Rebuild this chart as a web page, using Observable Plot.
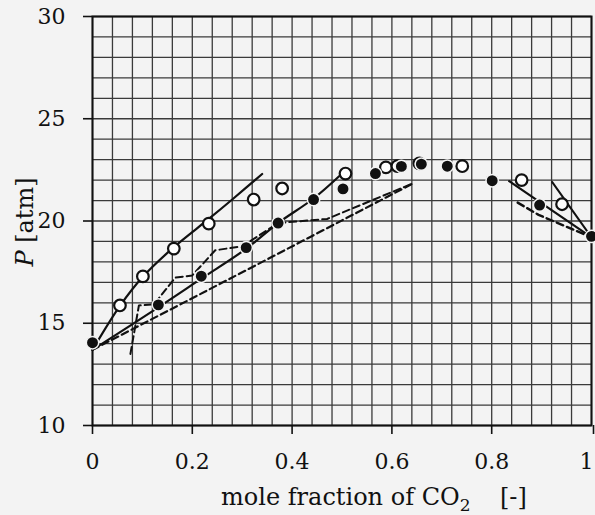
<!DOCTYPE html>
<html><head><meta charset="utf-8">
<script src="https://cdn.jsdelivr.net/npm/d3@7"></script>
<script src="https://cdn.jsdelivr.net/npm/@observablehq/plot@0.6"></script>
<style>
html,body{margin:0;padding:0;background:#f3f3f3;}
#chart{width:595px;height:515px;position:relative;}
svg{overflow:visible;}
</style>
</head><body><div id="chart"></div>
<script>
// ---- data ----
const filledX = [0, 0.132, 0.218, 0.308, 0.372, 0.443, 0.502, 0.567, 0.619, 0.659, 0.711, 0.801, 0.896, 1.0];
const filledP = [14.05, 15.9, 17.3, 18.7, 19.9, 21.05, 21.57, 22.32, 22.67, 22.78, 22.68, 21.97, 20.78, 19.25];

const openX = [0.055, 0.101, 0.163, 0.233, 0.323, 0.380, 0.507, 0.588, 0.611, 0.655, 0.741, 0.860, 0.941];
const openP = [15.87, 17.29, 18.65, 19.87, 21.05, 21.59, 22.32, 22.62, 22.68, 22.82, 22.68, 22.0, 20.82];

// solid curve through open circles (left branch)
const lineAX = [0, 0.055, 0.100, 0.163, 0.233, 0.280, 0.340];
const lineAP = [13.7, 15.85, 17.25, 18.72, 20.1, 21.05, 22.3];
// solid curve through filled dots (left branch)
const lineBX = [0, 0.132, 0.218, 0.309, 0.372, 0.443, 0.497];
const lineBP = [13.7, 15.78, 17.18, 18.66, 19.9, 21.1, 22.25];
// stepped dashed curve
const lineCX = [0.076, 0.093, 0.123, 0.166, 0.200, 0.246, 0.300, 0.372, 0.470, 0.644];
const lineCP = [13.5, 15.87, 15.92, 17.23, 17.34, 18.57, 18.76, 19.9, 20.1, 21.86];
// lower dashed curve
const lineDX = [0, 0.277, 0.644];
const lineDP = [13.7, 17.2, 21.86];
// right branch lines
const lineEX = [0.835, 1.0];
const lineEP = [21.95, 19.2];
const lineFX = [0.921, 1.0];
const lineFP = [21.91, 19.2];
const lineGX = [0.852, 0.894, 1.0];
const lineGP = [20.9, 20.3, 19.2];

const xTicks = [0, 0.2, 0.4, 0.6, 0.8, 1];
const xTickLabels = ["0", "0.2", "0.4", "0.6", "0.8", "1"];
const yTicks = [10, 15, 20, 25, 30];
const yTickLabels = ["10", "15", "20", "25", "30"];
const gridX = d3.range(0, 26).map(i => i * 0.04);
const gridY = d3.range(10, 31);

const xLabel = "mole fraction of CO";
const xLabelSub = "2";
const xUnit = "[-]";
const yLabelVar = "P";
const yLabelUnit = " [atm]";

// ---- tables ----
const toRows = (xs, ps) => xs.map((x, i) => ({x, P: ps[i]}));
const filled = toRows(filledX, filledP);
const open = toRows(openX, openP);
const A = toRows(lineAX, lineAP), B = toRows(lineBX, lineBP), C = toRows(lineCX, lineCP),
      D = toRows(lineDX, lineDP), E = toRows(lineEX, lineEP), F = toRows(lineFX, lineFP),
      G = toRows(lineGX, lineGP);

const font = "'DejaVu Serif', serif";
const gridColor = "#3a3a3a";
const dash = "7,4";
const lastTick = xTicks.length - 1;

const plot = Plot.plot({
  width: 595, height: 515,
  marginLeft: 92, marginRight: 4, marginTop: 16, marginBottom: 90,
  style: {background: "transparent", fontFamily: font, color: "#111"},
  x: {domain: [0, 1]},
  y: {domain: [10, 30]},
  marks: [
    Plot.ruleX(gridX, {stroke: gridColor, strokeWidth: 1.3}),
    Plot.ruleY(gridY, {stroke: gridColor, strokeWidth: 1.3}),
    Plot.frame({stroke: "#111", strokeWidth: 2}),
    Plot.axisX({ticks: xTicks.slice(0, lastTick), tickFormat: (d, i) => xTickLabels[i], tickSize: 9, tickPadding: 19,
                fontSize: 22, label: null, stroke: "#111", strokeWidth: 1.6}),
    Plot.axisX({ticks: xTicks.slice(lastTick), tickFormat: () => xTickLabels[lastTick], tickSize: 9, tickPadding: 19,
                fontSize: 22, label: null, stroke: "#111", strokeWidth: 1.6, textAnchor: "end", dx: 2}),
    Plot.axisY({ticks: yTicks, tickFormat: (d, i) => yTickLabels[i], tickSize: 9, tickPadding: 18,
                fontSize: 22, label: null, stroke: "#111", strokeWidth: 1.6}),
    Plot.line(D, {x: "x", y: "P", stroke: "#111", strokeWidth: 2.2, strokeDasharray: dash, curve: "catmull-rom"}),
    Plot.line(C, {x: "x", y: "P", stroke: "#111", strokeWidth: 2, strokeDasharray: dash}),
    Plot.line(B, {x: "x", y: "P", stroke: "#111", strokeWidth: 2.2, curve: "catmull-rom"}),
    Plot.line(A, {x: "x", y: "P", stroke: "#111", strokeWidth: 2.2, curve: "catmull-rom"}),
    Plot.line(E, {x: "x", y: "P", stroke: "#111", strokeWidth: 2.2}),
    Plot.line(F, {x: "x", y: "P", stroke: "#111", strokeWidth: 2}),
    Plot.line(G, {x: "x", y: "P", stroke: "#111", strokeWidth: 2.4, strokeDasharray: dash}),
    Plot.dot(open, {x: "x", y: "P", r: 5.8, fill: "white", stroke: "#111", strokeWidth: 2.2}),
    Plot.dot(filled, {x: "x", y: "P", r: 6.2, fill: "#111", stroke: "#f3f3f3", strokeWidth: 1.5})
  ]
});
document.getElementById("chart").appendChild(plot);

// axis titles (with subscript / italic) added as real SVG text
const svg = d3.select(plot);
const xt = svg.append("text")
  .attr("x", 221).attr("y", 505)
  .attr("text-anchor", "start")
  .attr("font-family", font).attr("font-size", 24).attr("fill", "#111");
xt.append("tspan").text(xLabel);
xt.append("tspan").attr("font-size", 17).attr("dy", 6).text(xLabelSub);
svg.append("text")
  .attr("x", 500).attr("y", 505)
  .attr("text-anchor", "start")
  .attr("font-family", font).attr("font-size", 24).attr("fill", "#111")
  .text(xUnit);

const yt = svg.append("text")
  .attr("transform", "translate(33,222) rotate(-90)")
  .attr("text-anchor", "middle")
  .attr("font-family", font).attr("font-size", 24).attr("fill", "#111");
yt.append("tspan").attr("font-style", "italic").text(yLabelVar);
yt.append("tspan").text(yLabelUnit);
</script>
</body></html>
